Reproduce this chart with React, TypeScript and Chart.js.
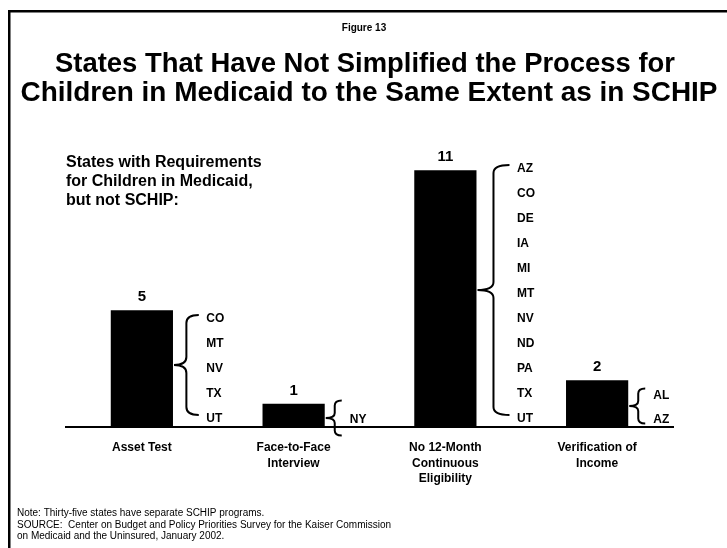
import { useEffect, useRef } from "react";
import { Chart, registerables } from "chart.js";

Chart.register(...registerables);

const figureLabel = "Figure 13";
const titleLines = [
  "States That Have Not Simplified the Process for",
  "Children in Medicaid to the Same Extent as in SCHIP",
];
const subtitleLines = ["States with Requirements", "for Children in Medicaid,", "but not SCHIP:"];
const categories = [
  ["Asset Test"],
  ["Face-to-Face", "Interview"],
  ["No 12-Month", "Continuous", "Eligibility"],
  ["Verification of", "Income"],
];
const stateCounts = [5, 1, 11, 2];
const stateLists = [
  ["CO", "MT", "NV", "TX", "UT"],
  ["NY"],
  ["AZ", "CO", "DE", "IA", "MI", "MT", "NV", "ND", "PA", "TX", "UT"],
  ["AL", "AZ"],
];
const noteLines = [
  "Note: Thirty-five states have separate SCHIP programs.",
  "SOURCE:  Center on Budget and Policy Priorities Survey for the Kaiser Commission",
  "on Medicaid and the Uninsured, January 2002.",
];
const yMax = 12;

const FONT = '"Liberation Sans", Arial, Helvetica, sans-serif';

function drawBrace(ctx: CanvasRenderingContext2D, xTip: number, xLine: number, xEnd: number, yTop: number, yBot: number, r: number) {
  const yMid = (yTop + yBot) / 2;
  ctx.beginPath();
  ctx.moveTo(xEnd, yTop);
  ctx.quadraticCurveTo(xLine, yTop, xLine, yTop + r);
  ctx.lineTo(xLine, yMid - r);
  ctx.quadraticCurveTo(xLine, yMid, xTip, yMid);
  ctx.quadraticCurveTo(xLine, yMid, xLine, yMid + r);
  ctx.lineTo(xLine, yBot - r);
  ctx.quadraticCurveTo(xLine, yBot, xEnd, yBot);
  ctx.stroke();
}

const decorPlugin = {
  id: "decor",
  beforeDraw(chart: any) {
    const ctx: CanvasRenderingContext2D = chart.ctx;
    ctx.save();
    ctx.fillStyle = "#fff";
    ctx.fillRect(0, 0, chart.width, chart.height);
    ctx.strokeStyle = "#000";
    ctx.lineWidth = 2.5;
    ctx.beginPath();
    ctx.moveTo(9.25, chart.height + 5);
    ctx.lineTo(9.25, 11.25);
    ctx.lineTo(chart.width + 5, 11.25);
    ctx.stroke();
    ctx.restore();
  },
  afterDraw(chart: any) {
    const ctx: CanvasRenderingContext2D = chart.ctx;
    const meta = chart.getDatasetMeta(0);
    const yScale = chart.scales.y;
    ctx.save();
    ctx.fillStyle = "#000";
    ctx.strokeStyle = "#000";
    ctx.textBaseline = "alphabetic";

    ctx.textAlign = "center";
    ctx.font = `bold 10px ${FONT}`;
    ctx.fillText(figureLabel, 364, 31);
    ctx.font = `bold 28px ${FONT}`;
    ctx.fillText(titleLines[0], 365, 72, 620);
    ctx.fillText(titleLines[1], 369, 101, 697);

    ctx.textAlign = "left";
    ctx.font = `bold 16px ${FONT}`;
    subtitleLines.forEach((t, i) => ctx.fillText(t, 66, 167 + i * 19));

    ctx.font = `10px ${FONT}`;
    noteLines.forEach((t, i) => ctx.fillText(t, 17, 516 + i * 11.5));

    const base = yScale.getPixelForValue(0);
    meta.data.forEach((bar: any, i: number) => {
      ctx.textAlign = "center";
      ctx.font = `bold 15px ${FONT}`;
      ctx.fillText(String(stateCounts[i]), bar.x, bar.y - 9);

      const list = stateLists[i];
      const n = list.length;
      const right = bar.x + bar.width / 2;
      const large = n >= 3;
      const lastBase = large ? base - 5 : base - 4;
      const spacing = large ? 25 : 24;
      const firstBase = lastBase - (n - 1) * spacing;
      ctx.lineWidth = 2;
      let labelX: number;
      if (large) {
        const yTop = firstBase - 7;
        const yBot = lastBase - 7;
        const lineOff = 11 + (yBot - yTop) * 0.024;
        const endOff = lineOff * 2 - 1;
        labelX = right + endOff + 7.5;
        drawBrace(ctx, right + 1, right + lineOff, right + endOff, yTop, yBot, 8);
      } else {
        const mid = (firstBase + lastBase) / 2 - 5;
        labelX = right + 25;
        drawBrace(ctx, right + 1, right + 10, right + 17, mid - 17.5, mid + 17.5, 5);
      }
      ctx.textAlign = "left";
      ctx.font = `bold 12px ${FONT}`;
      list.forEach((s, k) => ctx.fillText(s, labelX, firstBase + k * spacing));
    });
    ctx.restore();
  },
};

export default function App() {
  const ref = useRef<HTMLCanvasElement>(null);
  useEffect(() => {
    if (!ref.current) return;
    const chart = new Chart(ref.current, {
      type: "bar",
      data: {
        labels: categories,
        datasets: [
          {
            data: stateCounts,
            backgroundColor: "#000",
            borderWidth: 0,
            barPercentage: 0.41,
            categoryPercentage: 1,
          },
        ],
      },
      options: {
        animation: false,
        responsive: false,
        layout: { padding: { left: 66, right: 54, top: 147, bottom: 0 } },
        plugins: { legend: { display: false }, tooltip: { enabled: false }, title: { display: false } },
        scales: {
          x: {
            grid: { display: false, drawTicks: false },
            border: { display: true, color: "#000", width: 2 },
            ticks: {
              color: "#000",
              font: { family: FONT, weight: "bold", size: 12, lineHeight: 1.3 },
              padding: 13,
              maxRotation: 0,
              autoSkip: false,
            },
            afterFit: (scale: any) => {
              scale.height = 121;
            },
          },
          y: { display: false, min: 0, max: yMax },
        },
      },
      plugins: [decorPlugin],
    });
    return () => chart.destroy();
  }, []);
  return (
    <div style={{ position: "absolute", left: 0, top: 0, width: 727, height: 548 }}>
      <canvas ref={ref} width={727} height={548} style={{ display: "block" }} />
    </div>
  );
}
